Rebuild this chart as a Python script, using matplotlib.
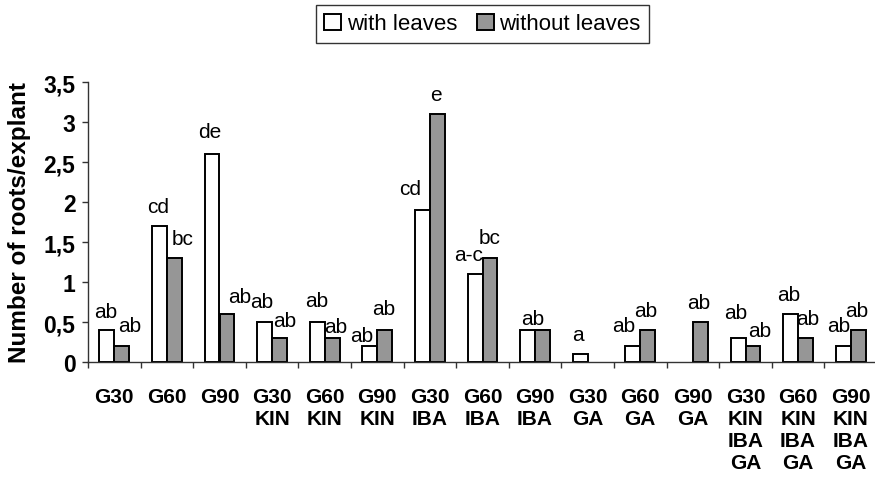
import matplotlib
matplotlib.use("Agg")
import matplotlib.pyplot as plt
from matplotlib.patches import Patch
import numpy as np

categories = ["G30", "G60", "G90", "G30\nKIN", "G60\nKIN", "G90\nKIN",
              "G30\nIBA", "G60\nIBA", "G90\nIBA", "G30\nGA", "G60\nGA", "G90\nGA",
              "G30\nKIN\nIBA\nGA", "G60\nKIN\nIBA\nGA", "G90\nKIN\nIBA\nGA"]
with_leaves = [0.4, 1.7, 2.6, 0.5, 0.5, 0.2, 1.9, 1.1, 0.4, 0.1, 0.2, 0.0, 0.3, 0.6, 0.2]
without_leaves = [0.2, 1.3, 0.6, 0.3, 0.3, 0.4, 3.1, 1.3, 0.4, 0.0, 0.4, 0.5, 0.2, 0.3, 0.4]
labels_with = ["ab", "cd", "de", "ab", "ab", "ab", "cd", "a-c", "ab", "a", "ab", "", "ab", "ab", "ab"]
labels_without = ["ab", "bc", "ab", "ab", "ab", "ab", "e", "bc", "", "", "ab", "ab", "ab", "ab", "ab"]

# label nudges (dx, dy) in pixels, as placed by hand in the original
nudge_with = [(-1.5, 13), (-1, 14), (-2.5, 17), (-2.5, 15), (-1, 16), (-8, 5), (-12.5, 16), (-6.5, 14),
              (5, 6), (-2, 14), (-9.5, 15), (0, 0), (-2, 20), (-1.5, 14), (-4.5, 15)]
nudge_without = [(7.5, 15), (8, 14), (12.5, 12), (5.5, 12), (3.5, 6), (-1, 16), (-1, 14), (0, 15),
                 (0, 0), (0, 0), (-2.5, 14), (-2, 14), (7, 10), (2.5, 14), (-1.5, 14)]

plt.rcParams['font.family'] = ['Liberation Sans', 'DejaVu Sans']

W, H = 875, 489
fig = plt.figure(figsize=(W / 100, H / 100), dpi=100)
ax = fig.add_axes([88 / W, 1 - 363 / H, 789 / W, 280 / H])

x = np.arange(len(categories))
w = 0.285
b1 = ax.bar(x - w / 2, with_leaves, w, color='white', edgecolor='black', linewidth=1.4)
b2 = ax.bar(x + w / 2, without_leaves, w, color='#969696', edgecolor='black', linewidth=1.4)

for bars, labs, nud in [(b1, labels_with, nudge_with), (b2, labels_without, nudge_without)]:
    for r, lab, (dx, dy) in zip(bars, labs, nud):
        if r.get_height() == 0:
            r.set_visible(False)
        if not lab:
            continue
        ax.annotate(lab, (r.get_x() + r.get_width() / 2, r.get_height()),
                    xytext=(dx, dy), textcoords='offset pixels',
                    ha='center', va='baseline', fontsize=15)

ax.set_xlim(-0.5, len(categories) - 0.5)
ax.set_ylim(0, 3.5)
ax.set_yticks([0, 0.5, 1, 1.5, 2, 2.5, 3, 3.5])
ax.set_yticklabels(["0", "0,5", "1", "1,5", "2", "2,5", "3", "3,5"], fontsize=16.5, fontweight='bold')
ax.set_xticks(x)
ax.set_xticklabels(categories, fontsize=15, fontweight='bold', linespacing=1.2, va='top')
ax.set_xticks(np.arange(len(categories) + 1) - 0.5, minor=True)
ax.tick_params(axis='x', which='major', length=0, pad=18)
ax.tick_params(axis='x', which='minor', length=4, width=1, color='#333333', direction='out')
ax.tick_params(axis='y', length=4, width=1, color='#333333', pad=5)

for s in ['top', 'right']:
    ax.spines[s].set_visible(False)
for s in ['left', 'bottom']:
    ax.spines[s].set_color('#333333')
    ax.spines[s].set_linewidth(1)

fig.text(19.5 / W, 1 - 223 / H, "Number of roots/explant", rotation=90,
         ha='center', va='center', fontsize=17.5, fontweight='bold')

handles = [Patch(facecolor='white', edgecolor='black', linewidth=1.4),
           Patch(facecolor='#969696', edgecolor='black', linewidth=1.4)]
leg = fig.legend(handles, ["with leaves", "without leaves"], loc='center',
                 bbox_to_anchor=(482.5 / W, 1 - 25 / H), ncol=2, fontsize=16,
                 fancybox=False, edgecolor='#333333', framealpha=1,
                 handlelength=0.75, handleheight=0.75, handletextpad=0.25,
                 columnspacing=0.9, borderpad=0.4, borderaxespad=0)
leg.get_frame().set_linewidth(1)

fig.savefig("out.png", dpi=100)
